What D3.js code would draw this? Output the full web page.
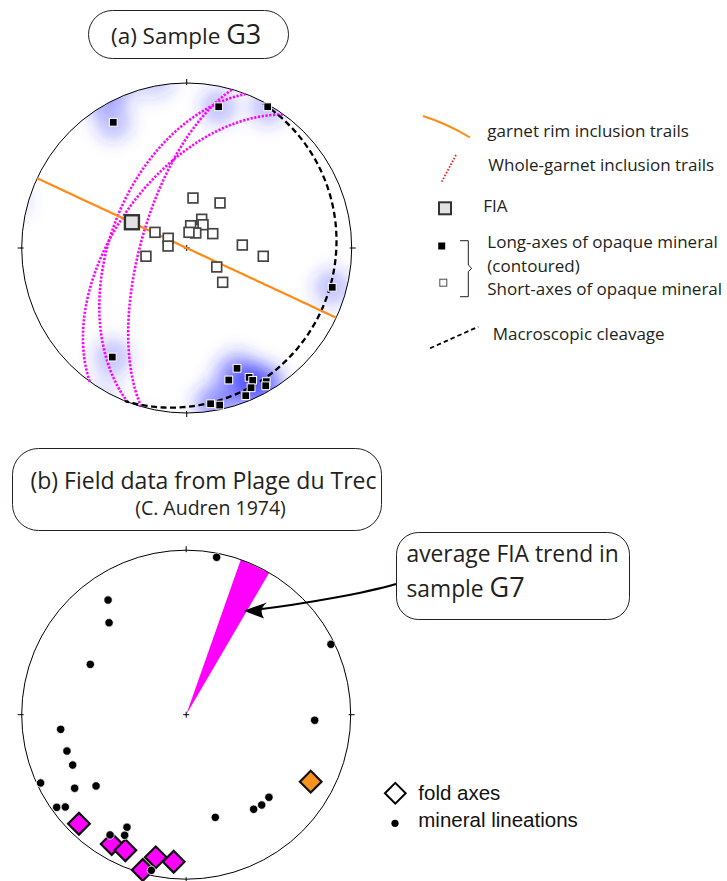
<!DOCTYPE html>
<html><head><meta charset="utf-8">
<script src="https://cdn.jsdelivr.net/npm/d3@7"></script>
<style>html,body{margin:0;background:#fff}svg{display:block}</style>
</head><body><svg id="c" width="727" height="881"></svg>
<script>
// ---------------- DATA ----------------
// (a) Sample G3 — positions in equal-area net units [east, north], radius 1 = primitive
const longAxesG3 = [[-0.445,0.762],[0.194,0.856],[0.491,0.856],[0.882,-0.238],[-0.451,-0.661],
  [0.305,-0.729],[0.255,-0.800],[0.378,-0.784],[0.400,-0.802],[0.390,-0.847],[0.482,-0.810],
  [0.479,-0.835],[0.358,-0.895],[0.145,-0.944],[0.200,-0.952]];
const shortAxesG3 = [[0.038,0.303],[0.202,0.273],[0.091,0.174],[0.024,0.135],[0.099,0.141],
  [0.055,0.091],[0.014,0.095],[0.158,0.087],[-0.192,0.095],[-0.112,0.059],[-0.113,0.012],
  [-0.247,-0.050],[0.337,0.018],[0.464,-0.050],[0.182,-0.115],[0.218,-0.208]];
const fiaG3 = [[-0.332,0.156]];
// planes as dip direction / dip (degrees)
const wholeGarnetPlanes = [{dipDir:306,dip:55},{dipDir:291,dip:52},{dipDir:286,dip:67.5}];
const garnetRimPlanes = [{dipDir:25,dip:90}];
const cleavagePlanes = [{dipDir:112,dip:11}];
const legendALabels = ["garnet rim inclusion trails","Whole-garnet inclusion trails","FIA",
  "Long-axes of opaque mineral","(contoured)","Short-axes of opaque mineral","Macroscopic cleavage"];

// (b) Field data, Plage du Trec
const lineations = [[0.185,0.957],[-0.475,0.697],[-0.469,0.559],[-0.583,0.306],[0.880,0.428],
  [0.781,-0.034],[-0.763,-0.089],[-0.725,-0.221],[-0.690,-0.306],[-0.885,-0.415],[-0.678,-0.447],
  [-0.548,-0.433],[-0.787,-0.563],[-0.735,-0.561],[0.503,-0.502],[0.459,-0.549],[0.410,-0.575],
  [0.177,-0.624],[-0.360,-0.684],[-0.463,-0.731],[-0.374,-0.733],[-0.212,-0.946]];
const foldAxes = [[-0.652,-0.663],[-0.453,-0.786],[-0.370,-0.824],[-0.185,-0.867],[-0.076,-0.894],[-0.264,-0.944]];
const foldAxesOrange = [[0.757,-0.407]];
const fiaTrendG7 = [19.4, 30.3]; // azimuth range (deg)
const legendBLabels = ["fold axes","mineral lineations"];

// ---------------- DRAW ----------------
const svg = d3.select("#c");
const ink = "#231f20";
const rad = Math.PI/180;
const myriad = "'Open Sans', 'Noto Sans', sans-serif";
const arial = "'Liberation Sans', Arial, sans-serif";

function project(trend, plunge){
  const r = Math.SQRT2*Math.sin((90-plunge)/2*rad);
  return [r*Math.sin(trend*rad), r*Math.cos(trend*rad)];
}
function greatCircle(p){
  const s=(p.dipDir-90)*rad, dd=p.dipDir*rad, dp=p.dip*rad;
  const sv=[Math.cos(s),Math.sin(s),0];
  const dv=[Math.cos(dp)*Math.cos(dd),Math.cos(dp)*Math.sin(dd),Math.sin(dp)];
  return d3.range(0,180.001,1).map(t=>{
    t*=rad;
    const v=[0,1,2].map(i=>Math.cos(t)*sv[i]+Math.sin(t)*dv[i]);
    const pl=Math.asin(Math.max(-1,Math.min(1,v[2])))/rad;
    const tr=Math.atan2(v[1],v[0])/rad;
    return project(tr,pl);
  });
}
function makeNet(cx,cy,R){
  return {cx,cy,R,x:d3.scaleLinear([-1,1],[cx-R,cx+R]),y:d3.scaleLinear([-1,1],[cy+R,cy-R])};
}
const A = makeNet(186.7,248,165);
const B = makeNet(186.2,714.7,164.5);

const defs = svg.append("defs");
defs.append("clipPath").attr("id","clipA").append("circle").attr("cx",A.cx).attr("cy",A.cy).attr("r",A.R);
defs.append("filter").attr("id","blur").attr("x","-50%").attr("y","-50%").attr("width","200%").attr("height","200%")
  .append("feGaussianBlur").attr("stdDeviation",8.5);

function drawTicks(g, net){
  const t = [[0,-1],[1,0],[0,1],[-1,0]];
  g.selectAll(null).data(t).join("line")
    .attr("x1",d=>net.cx+d[0]*(net.R-2)).attr("y1",d=>net.cy+d[1]*(net.R-2))
    .attr("x2",d=>net.cx+d[0]*(net.R+4)).attr("y2",d=>net.cy+d[1]*(net.R+4))
    .attr("stroke","#000").attr("stroke-width",1);
  g.append("path").attr("d",`M${net.cx-3},${net.cy}H${net.cx+3}M${net.cx},${net.cy-3}V${net.cy+3}`)
    .attr("stroke","#000").attr("stroke-width",1);
}

// ===== (a) =====
const gA = svg.append("g");
// contoured long axes (density blur, wrapped across primitive)
const kern = longAxesG3.flatMap(p=>{
  const r=Math.hypot(p[0],p[1]);
  return r>0.8 ? [{p,w:0.3},{p:[-p[0]/r*(2-r),-p[1]/r*(2-r)],w:0.13}] : [{p,w:0.3}];
});
gA.append("g").attr("clip-path","url(#clipA)").append("g").attr("filter","url(#blur)")
  .selectAll("circle").data(kern).join("circle")
  .attr("cx",d=>A.x(d.p[0])).attr("cy",d=>A.y(d.p[1])).attr("r",18)
  .attr("fill","#2a2aff").attr("fill-opacity",d=>d.w);

gA.append("circle").attr("cx",A.cx).attr("cy",A.cy).attr("r",A.R)
  .attr("fill","none").attr("stroke","#000").attr("stroke-width",1);
drawTicks(gA,A);

const lineA = d3.line().x(d=>A.x(d[0])).y(d=>A.y(d[1])).curve(d3.curveLinear);
gA.selectAll(".wg").data(wholeGarnetPlanes).join("path").attr("class","wg")
  .attr("d",d=>lineA(greatCircle(d))).attr("fill","none")
  .attr("stroke","#ff00ff").attr("stroke-width",2.6).attr("stroke-dasharray","2.2 1.6");
gA.selectAll(".cl").data(cleavagePlanes).join("path").attr("class","cl")
  .attr("d",d=>lineA(greatCircle(d).slice(6,181))).attr("fill","none")
  .attr("stroke","#000").attr("stroke-width",2.3).attr("stroke-dasharray","6 3.5");
gA.selectAll(".rim").data(garnetRimPlanes).join("path").attr("class","rim")
  .attr("d",d=>lineA(greatCircle(d))).attr("fill","none")
  .attr("stroke","#ff8a14").attr("stroke-width",2.2);

const sq = 9.8;
gA.selectAll(".sa").data(shortAxesG3).join("rect").attr("class","sa")
  .attr("x",d=>A.x(d[0])-sq/2).attr("y",d=>A.y(d[1])-sq/2).attr("width",sq).attr("height",sq)
  .attr("fill","#fff").attr("stroke","#444").attr("stroke-width",1.7);
const fs = 14;
gA.selectAll(".fia").data(fiaG3).join("rect").attr("class","fia")
  .attr("x",d=>A.x(d[0])-fs/2).attr("y",d=>A.y(d[1])-fs/2).attr("width",fs).attr("height",fs)
  .attr("fill","#e2e2e2").attr("stroke","#333").attr("stroke-width",2.4);
const ls = 7.8;
gA.selectAll(".la").data(longAxesG3).join("rect").attr("class","la")
  .attr("x",d=>A.x(d[0])-ls/2).attr("y",d=>A.y(d[1])-ls/2).attr("width",ls).attr("height",ls)
  .attr("fill","#000").attr("stroke","#fff").attr("stroke-width",1);

// title (a)
svg.append("rect").attr("x",88.5).attr("y",10.5).attr("width",200).attr("height",48).attr("rx",24)
  .attr("fill","#fff").attr("stroke",ink).attr("stroke-width",1);
const tA = svg.append("text").attr("x",111).attr("y",43.5).attr("font-family",myriad).attr("fill",ink);
tA.append("tspan").attr("font-size",22.5).text("(a) Sample ");
tA.append("tspan").attr("font-size",27).text("G3");

// legend (a)
const legA = svg.append("g").attr("font-family",myriad).attr("font-size",17).attr("fill",ink);
const legAPos = [[487.3,137.3],[488.3,171],[483.3,211.7],[487.3,248.3],[487.3,271.7],[487.3,295],[492.7,340]];
legA.selectAll("text").data(legendALabels).join("text")
  .attr("x",(d,i)=>legAPos[i][0]).attr("y",(d,i)=>legAPos[i][1]).text(d=>d);
legA.append("path").attr("d","M423,116 Q448,124 470,137.5").attr("fill","none").attr("stroke","#ff8a14").attr("stroke-width",2);
legA.append("path").attr("d","M456,155 L441.7,181.7").attr("fill","none").attr("stroke","#ff1a1a").attr("stroke-width",1.8).attr("stroke-dasharray","1.6 1.6");
legA.append("rect").attr("x",439).attr("y",202.3).attr("width",12).attr("height",12).attr("fill","#e2e2e2").attr("stroke","#333").attr("stroke-width",2);
legA.append("rect").attr("x",438.2).attr("y",242.5).attr("width",7).attr("height",7).attr("fill","#000");
legA.append("rect").attr("x",439.8).attr("y",279.2).attr("width",7).attr("height",7).attr("fill","#fff").attr("stroke","#4d4d4d").attr("stroke-width",1);
legA.append("path").attr("d","M460,240.7 H468.3 V265 L471.7,268.3 L468.3,271.7 V296.7 H460").attr("fill","none").attr("stroke",ink).attr("stroke-width",1);
legA.append("path").attr("d","M430,348.3 L478.3,326.7").attr("fill","none").attr("stroke","#000").attr("stroke-width",1.8).attr("stroke-dasharray","4.5 3");

// ===== (b) =====
svg.append("rect").attr("x",12.5).attr("y",448.5).attr("width",369).attr("height",82).attr("rx",26)
  .attr("fill","#fff").attr("stroke",ink).attr("stroke-width",1);
svg.append("text").attr("x",203.5).attr("y",488.5).attr("text-anchor","middle").attr("font-family",myriad)
  .attr("font-size",23).attr("fill",ink).text("(b) Field data from Plage du Trec");
svg.append("text").attr("x",210.5).attr("y",515).attr("text-anchor","middle").attr("font-family",myriad)
  .attr("font-size",19.5).attr("fill",ink).text("(C. Audren 1974)");

const gB = svg.append("g");
const wedgePts = [[0,0],[Math.sin(fiaTrendG7[0]*rad),Math.cos(fiaTrendG7[0]*rad)],[Math.sin(fiaTrendG7[1]*rad),Math.cos(fiaTrendG7[1]*rad)]];
gB.append("path").attr("d",d3.line().x(d=>B.x(d[0])).y(d=>B.y(d[1]))(wedgePts)+"Z").attr("fill","#ff00ff");
gB.append("circle").attr("cx",B.cx).attr("cy",B.cy).attr("r",B.R)
  .attr("fill","none").attr("stroke","#000").attr("stroke-width",1);
drawTicks(gB,B);

const dsym = d3.symbol(d3.symbolSquare, 235);
gB.selectAll(".fa").data(foldAxes).join("path").attr("class","fa")
  .attr("d",dsym).attr("transform",d=>`translate(${B.x(d[0])},${B.y(d[1])}) rotate(45)`)
  .attr("fill","#ff00ff").attr("stroke","#111").attr("stroke-width",2.2);
gB.selectAll(".fo").data(foldAxesOrange).join("path").attr("class","fo")
  .attr("d",dsym).attr("transform",d=>`translate(${B.x(d[0])},${B.y(d[1])}) rotate(45)`)
  .attr("fill","#f7941d").attr("stroke","#111").attr("stroke-width",2.2);
gB.selectAll(".li").data(lineations).join("circle").attr("class","li")
  .attr("cx",d=>B.x(d[0])).attr("cy",d=>B.y(d[1])).attr("r",4.2)
  .attr("fill","#000").attr("stroke","#fff").attr("stroke-width",0.8);

// FIA annotation box + arrow
svg.append("rect").attr("x",396.5).attr("y",532.5).attr("width",233).attr("height",87).attr("rx",22)
  .attr("fill","#fff").attr("stroke",ink).attr("stroke-width",1);
svg.append("text").attr("x",406.5).attr("y",561.7).attr("font-family",myriad).attr("font-size",22.8).attr("fill",ink)
  .text("average FIA trend in");
const tB2 = svg.append("text").attr("x",406.5).attr("y",597).attr("font-family",myriad).attr("fill",ink);
tB2.append("tspan").attr("font-size",22.8).text("sample ");
tB2.append("tspan").attr("font-size",27).text("G7");
svg.append("path").attr("d","M396,584 C365,593 305,604 256,609.8").attr("fill","none").attr("stroke","#000").attr("stroke-width",2);
svg.append("path").attr("d","M243.5,610.7 L267,602.5 Q258,609.5 264,618.5 Z").attr("fill","#000");

// legend (b)
const legB = svg.append("g").attr("font-family",arial).attr("font-size",20.5).attr("fill","#111");
legB.append("path").attr("d",d3.symbol(d3.symbolSquare,215)).attr("transform","translate(395.3,793.3) rotate(45)")
  .attr("fill","#fff").attr("stroke","#000").attr("stroke-width",2);
legB.append("circle").attr("cx",395).attr("cy",823.3).attr("r",3.6).attr("fill","#000");
legB.selectAll("text").data(legendBLabels).join("text")
  .attr("x",418.3).attr("y",(d,i)=>i===0?799.5:827).text(d=>d);
</script></body></html>
